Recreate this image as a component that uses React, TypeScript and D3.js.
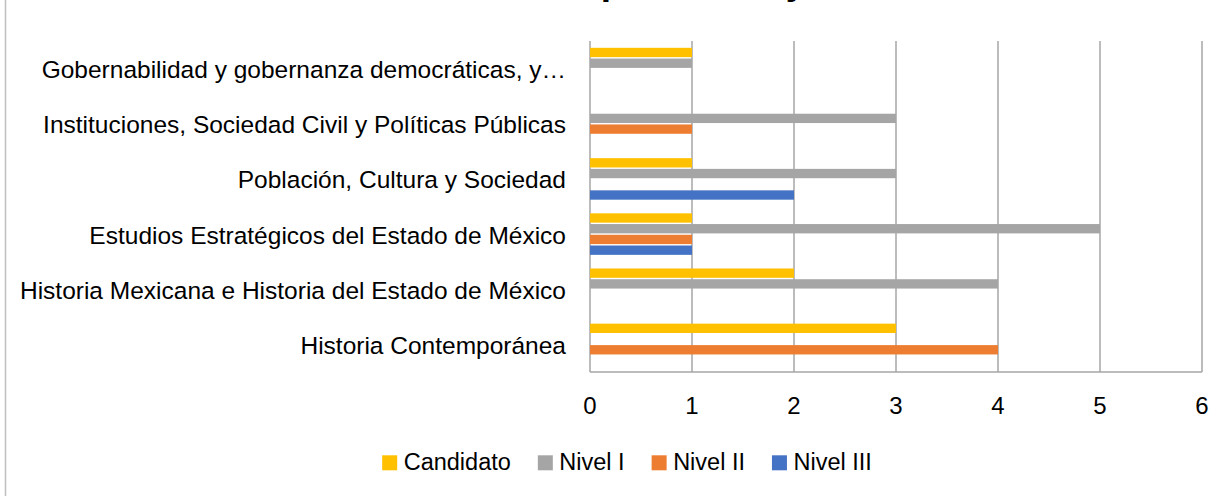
import { useEffect, useRef } from "react";
import * as d3 from "d3";

// categories, top to bottom as they appear
const categories = [
  "Gobernabilidad y gobernanza democráticas, y…",
  "Instituciones, Sociedad Civil y Políticas Públicas",
  "Población, Cultura y Sociedad",
  "Estudios Estratégicos del Estado de México",
  "Historia Mexicana e Historia del Estado de México",
  "Historia Contemporánea",
];

const seriesNames = ["Candidato", "Nivel I", "Nivel II", "Nivel III"];
const seriesColors = ["#FFC000", "#A5A5A5", "#ED7D31", "#4472C4"];

// values per category, same order as categories
const candidato = [1, 0, 1, 1, 2, 3];
const nivelI = [1, 3, 3, 5, 4, 0];
const nivelII = [0, 1, 0, 1, 0, 4];
const nivelIII = [0, 0, 2, 1, 0, 0];

const xTicks = [0, 1, 2, 3, 4, 5, 6];
const title = "Miembros del SNI por LGAC y nivel";

function App() {
  const chartRef = useRef<HTMLDivElement>(null);

  useEffect(() => {
    const width = 1229;
    const height = 496;
    const plot = { left: 590, right: 1202, top: 41, bottom: 372 };
    const font = "'Liberation Sans', Arial, sans-serif";

    const root = d3.select(chartRef.current);
    root.selectAll("*").remove();

    const svg = root
      .append("svg")
      .attr("width", width)
      .attr("height", height)
      .style("position", "absolute")
      .style("left", 0)
      .style("top", 0)
      .style("background", "#fff");

    // left frame edge
    svg
      .append("line")
      .attr("x1", 5.5)
      .attr("x2", 5.5)
      .attr("y1", 0)
      .attr("y2", height)
      .attr("stroke", "#BFBFBF")
      .attr("stroke-width", 1.5);

    // title (only the descenders show at the top edge)
    svg
      .append("text")
      .attr("x", 280)
      .attr("y", -6)
      .attr("font-family", font)
      .attr("font-weight", "bold")
      .attr("font-size", 37)
      .text(title);

    const values = [candidato, nivelI, nivelII, nivelIII];

    const xScale = d3.scaleLinear().domain([0, 6]).range([plot.left, plot.right]);

    const yScale = d3
      .scaleBand()
      .domain(categories)
      .range([plot.top, plot.bottom])
      .paddingInner(0)
      .paddingOuter(0);

    const ySub = d3
      .scaleBand()
      .domain(seriesNames)
      .range([0, yScale.bandwidth()])
      .paddingInner(0)
      .paddingOuter(0.57);

    // gridlines
    svg
      .selectAll("line.grid")
      .data(xTicks)
      .enter()
      .append("line")
      .attr("class", "grid")
      .attr("x1", (d) => xScale(d))
      .attr("x2", (d) => xScale(d))
      .attr("y1", plot.top)
      .attr("y2", plot.bottom)
      .attr("stroke", "#A6A6A6")
      .attr("stroke-width", 1.5);

    svg
      .append("line")
      .attr("x1", plot.left)
      .attr("x2", plot.right)
      .attr("y1", plot.bottom)
      .attr("y2", plot.bottom)
      .attr("stroke", "#A6A6A6")
      .attr("stroke-width", 1.5);

    // bars
    seriesNames.forEach((name, si) => {
      svg
        .selectAll(`rect.s${si}`)
        .data(categories.map((c, ci) => ({ c, v: values[si][ci] })).filter((d) => d.v > 0))
        .enter()
        .append("rect")
        .attr("class", `s${si}`)
        .attr("x", xScale(0))
        .attr("y", (d) => yScale(d.c)! + ySub(name)! + 0.7)
        .attr("width", (d) => xScale(d.v) - xScale(0))
        .attr("height", ySub.bandwidth() - 1.4)
        .attr("fill", seriesColors[si]);
    });

    // category labels
    svg
      .selectAll("text.cat")
      .data(categories)
      .enter()
      .append("text")
      .attr("class", "cat")
      .attr("x", plot.left - 24)
      .attr("y", (d) => yScale(d)! + yScale.bandwidth() / 2 + 9.5)
      .attr("text-anchor", "end")
      .attr("font-family", font)
      .attr("font-size", 24.5)
      .attr("fill", "#000")
      .text((d) => d);

    // x tick labels
    svg
      .selectAll("text.tick")
      .data(xTicks)
      .enter()
      .append("text")
      .attr("class", "tick")
      .attr("x", (d) => xScale(d))
      .attr("y", 414)
      .attr("text-anchor", "middle")
      .attr("font-family", font)
      .attr("font-size", 24)
      .attr("fill", "#000")
      .text((d) => d);

    // legend, laid out from measured text widths
    const legend = svg.append("g");
    let cursor = 0;
    seriesNames.forEach((name, i) => {
      const g = legend.append("g").attr("transform", `translate(${cursor},0)`);
      g.append("rect")
        .attr("x", 0)
        .attr("y", -15)
        .attr("width", 15)
        .attr("height", 15)
        .attr("fill", seriesColors[i]);
      const t = g
        .append("text")
        .attr("x", 21.5)
        .attr("y", 0)
        .attr("font-family", font)
        .attr("font-size", 23.5)
        .attr("fill", "#000")
        .text(name);
      const w = (t.node() as SVGTextElement).getComputedTextLength();
      cursor += 21.5 + w + 27;
    });
    const total = cursor - 27;
    legend.attr("transform", `translate(${627 - total / 2},470.3)`);
  }, []);

  return <div ref={chartRef}></div>;
}

export default App;
